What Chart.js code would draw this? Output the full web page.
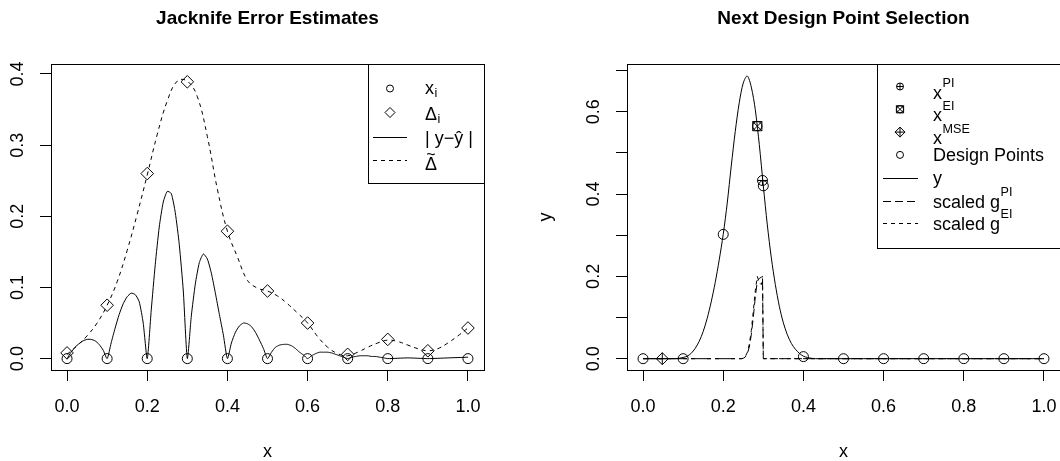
<!DOCTYPE html>
<html>
<head>
<meta charset="utf-8">
<script src="https://cdn.jsdelivr.net/npm/chart.js@4.4.0/dist/chart.umd.js"></script>
<style>
  html, body { margin: 0; padding: 0; background: #fff; overflow: hidden; }
  #wrap { position: relative; width: 1060px; height: 461px; overflow: hidden; }
  #leftBox { position: absolute; left: 0; top: 0; width: 530px; height: 461px; }
  #rightBox { position: absolute; left: 530px; top: 0; width: 540px; height: 461px; }
</style>
</head>
<body>
<div id="wrap">
  <div id="leftBox"><canvas id="leftChart"></canvas></div>
  <div id="rightBox"><canvas id="rightChart"></canvas></div>
</div>
<script>
// ---------- left panel: jacknife error estimates ----------
const designX = [0, 0.1, 0.2, 0.3, 0.4, 0.5, 0.6, 0.7, 0.8, 0.9, 1.0];
const designYLeft = [0, 0, 0, 0, 0, 0, 0, 0, 0, 0, 0];
const deltaI = [0.008, 0.075, 0.260, 0.389, 0.179, 0.095, 0.050, 0.006, 0.027, 0.011, 0.043];

const absErrX = [
  0, 0.01, 0.02, 0.03, 0.04, 0.05, 0.06, 0.07, 0.08, 0.09,
  0.10, 0.11, 0.12, 0.13, 0.14, 0.15, 0.16, 0.17, 0.18, 0.19,
  0.20, 0.21, 0.22, 0.23, 0.24, 0.25, 0.26, 0.27, 0.28, 0.29,
  0.30, 0.31, 0.32, 0.33, 0.34, 0.35, 0.36, 0.37, 0.38, 0.39,
  0.40, 0.41, 0.42, 0.43, 0.44, 0.45, 0.46, 0.47, 0.48, 0.49,
  0.50, 0.51, 0.52, 0.53, 0.54, 0.55, 0.56, 0.57, 0.58, 0.59,
  0.60, 0.61, 0.62, 0.63, 0.64, 0.65, 0.66, 0.67, 0.68, 0.69,
  0.70, 0.71, 0.72, 0.73, 0.74, 0.75, 0.76, 0.77, 0.78, 0.79,
  0.80, 0.85, 0.90, 0.95, 1.00
];
const absErrY = [
  0, 0.009, 0.016, 0.021, 0.025, 0.027, 0.027, 0.025, 0.020, 0.012,
  0, 0.022, 0.043, 0.062, 0.077, 0.087, 0.092, 0.090, 0.080, 0.050,
  0, 0.068, 0.132, 0.185, 0.220, 0.235, 0.232, 0.205, 0.160, 0.095,
  0, 0.060, 0.105, 0.135, 0.147, 0.140, 0.120, 0.092, 0.062, 0.033,
  0, 0.022, 0.037, 0.046, 0.050, 0.049, 0.045, 0.037, 0.026, 0.014,
  0, 0.009, 0.016, 0.019, 0.020, 0.020, 0.018, 0.014, 0.009, 0.005,
  0, 0.004, 0.007, 0.009, 0.009, 0.009, 0.008, 0.006, 0.004, 0.002,
  0, 0.002, 0.003, 0.004, 0.004, 0.004, 0.003, 0.003, 0.002, 0.001,
  0, 0.001, 0, 0.001, 0.002
];

const deltaTildeX = [
  0, 0.025, 0.05, 0.075, 0.1, 0.125, 0.15, 0.175, 0.2, 0.225,
  0.25, 0.275, 0.3, 0.325, 0.35, 0.375, 0.4, 0.425, 0.45, 0.475,
  0.5, 0.525, 0.55, 0.575, 0.6, 0.625, 0.65, 0.675, 0.7, 0.725,
  0.75, 0.775, 0.8, 0.825, 0.85, 0.875, 0.9, 0.925, 0.95, 0.975, 1
];
const deltaTildeY = [
  0.006, 0.018, 0.032, 0.050, 0.075, 0.108, 0.152, 0.203, 0.258, 0.315,
  0.362, 0.390, 0.390, 0.368, 0.312, 0.238, 0.179, 0.143, 0.110, 0.099,
  0.095, 0.088, 0.077, 0.064, 0.050, 0.031, 0.016, 0.007, 0.004, 0.009,
  0.016, 0.022, 0.026, 0.024, 0.019, 0.014, 0.011, 0.014, 0.022, 0.032, 0.043
];

// ---------- right panel: next design point selection ----------
const designYRight = [0, 0, 0.302, 0.420, 0.005, 0, 0, 0, 0, 0, 0];
const piX = [0.298], piY = [0.433];
const eiX = [0.285], eiY = [0.565];
const mseX = [0.048], mseY = [0];

const yCurveX = [
  0, 0.05, 0.08, 0.09,
  0.10, 0.11, 0.12, 0.13, 0.14, 0.15, 0.16, 0.17, 0.18, 0.19,
  0.20, 0.21, 0.22, 0.23, 0.24, 0.25, 0.26, 0.27, 0.28, 0.29,
  0.30, 0.31, 0.32, 0.33, 0.34, 0.35, 0.36, 0.37, 0.38, 0.39,
  0.40, 0.41, 0.42, 0.43,
  0.45, 0.5, 0.6, 0.7, 0.8, 0.9, 1.0
];
const yCurveY = [
  0, 0, 0, 0.001,
  0.003, 0.006, 0.013, 0.025, 0.042, 0.066, 0.098, 0.138, 0.185, 0.240,
  0.302, 0.378, 0.468, 0.552, 0.622, 0.670, 0.687, 0.660, 0.605, 0.520,
  0.420, 0.325, 0.245, 0.180, 0.127, 0.087, 0.058, 0.037, 0.023, 0.013,
  0.006, 0.003, 0.001, 0,
  0, 0, 0, 0, 0, 0, 0
];

const gX   = [0, 0.24, 0.245, 0.25, 0.255, 0.26, 0.265, 0.27, 0.275, 0.28, 0.285, 0.29, 0.295, 0.298, 0.300, 0.305, 1];
const gPI  = [0, 0, 0, 0.001, 0.004, 0.012, 0.028, 0.058, 0.100, 0.150, 0.188, 0.195, 0.198, 0.200, 0, 0, 0];
const gEI  = [0, 0, 0, 0.001, 0.005, 0.015, 0.035, 0.068, 0.115, 0.165, 0.200, 0.185, 0.180, 0.195, 0, 0, 0];

// ---------- ticks ----------
const xTicks = [0, 0.2, 0.4, 0.6, 0.8, 1];
const xTickLabels = ['0.0', '0.2', '0.4', '0.6', '0.8', '1.0'];
const yTicksLeft = [0, 0.1, 0.2, 0.3, 0.4];
const yTickLabelsLeft = ['0.0', '0.1', '0.2', '0.3', '0.4'];
const yTicksRight = [0, 0.1, 0.2, 0.3, 0.4, 0.5, 0.6, 0.7];
const yTickLabelsRight = ['0.0', '', '0.2', '', '0.4', '', '0.6', ''];

const FONT = '"Liberation Sans", Arial, sans-serif';
Chart.defaults.font.family = FONT;
Chart.defaults.font.size = 18;
Chart.defaults.color = '#000';

const pts = (xs, ys) => xs.map((x, i) => ({ x: x, y: ys[i] }));

function marks(data, style, r) {
  return {
    data: data, showLine: false, pointStyle: style, pointRadius: r, pointHoverRadius: r,
    pointBorderColor: '#000', pointBackgroundColor: 'rgba(0,0,0,0)', pointBorderWidth: 1
  };
}
function curve(data, dash, tension) {
  return {
    data: data, showLine: true, borderColor: '#000', borderWidth: 1, borderDash: dash,
    pointRadius: 0, pointHoverRadius: 0, tension: tension, fill: false
  };
}

// axis boxes get fixed sizes so the plot box lands where R put it
function axes(yMin, yMax, yTicks, yLabels, yWidth) {
  const tickGrid = { drawOnChartArea: false, drawTicks: true, tickLength: 11, color: '#000', tickColor: '#000', lineWidth: 1 };
  return {
    x: {
      type: 'linear', min: -0.04, max: 1.04,
      afterBuildTicks: s => { s.ticks = xTicks.map(v => ({ value: v })); },
      afterFit: s => { s.height = 91; s.paddingLeft = 0; s.paddingRight = 0; },
      grid: tickGrid, border: { display: false },
      ticks: { padding: 15, autoSkip: false, maxRotation: 0, callback: (v, i) => xTickLabels[i] }
    },
    y: {
      type: 'linear', min: yMin, max: yMax,
      afterBuildTicks: s => { s.ticks = yTicks.map(v => ({ value: v })); },
      afterFit: s => { s.width = yWidth; s.paddingTop = 0; s.paddingBottom = 0; },
      grid: tickGrid, border: { display: false },
      ticks: { padding: 9, autoSkip: false, minRotation: 90, maxRotation: 90, crossAlign: 'center',
               callback: (v, i) => yLabels[i] }
    }
  };
}

// ---------- legend symbols (plain canvas) ----------
function drawSym(ctx, kind, x, y, r) {
  ctx.beginPath();
  if (kind === 'circle' || kind === 'circlePlus') {
    ctx.arc(x, y, r, 0, Math.PI * 2);
  }
  if (kind === 'circlePlus') {
    ctx.moveTo(x - r, y); ctx.lineTo(x + r, y);
    ctx.moveTo(x, y - r); ctx.lineTo(x, y + r);
  }
  if (kind === 'diamond' || kind === 'diamondPlus') {
    ctx.moveTo(x - r, y); ctx.lineTo(x, y - r); ctx.lineTo(x + r, y); ctx.lineTo(x, y + r); ctx.closePath();
  }
  if (kind === 'diamondPlus') {
    ctx.moveTo(x - r, y); ctx.lineTo(x + r, y);
    ctx.moveTo(x, y - r); ctx.lineTo(x, y + r);
  }
  if (kind === 'squareX') {
    ctx.rect(x - r, y - r, 2 * r, 2 * r);
    ctx.moveTo(x - r, y - r); ctx.lineTo(x + r, y + r);
    ctx.moveTo(x + r, y - r); ctx.lineTo(x - r, y + r);
    ctx.moveTo(x + r, y); ctx.arc(x, y, r, 0, Math.PI * 2);
  }
  ctx.stroke();
}

function drawLegend(ctx, lg) {
  ctx.fillStyle = '#fff';
  ctx.fillRect(lg.x0, lg.y0, lg.x1 - lg.x0, lg.y1 - lg.y0);
  ctx.strokeRect(lg.x0 + 0.5, lg.y0 + 0.5, lg.x1 - lg.x0, lg.y1 - lg.y0);
  ctx.fillStyle = '#000';
  ctx.textAlign = 'left';
  ctx.textBaseline = 'alphabetic';
  lg.rows.forEach(row => {
    if (row.sym) drawSym(ctx, row.sym, lg.symX, row.y, row.r);
    if (row.dash) {
      ctx.setLineDash(row.dash);
      ctx.beginPath();
      ctx.moveTo(lg.lineX0, Math.round(row.y) + 0.5);
      ctx.lineTo(lg.lineX1, Math.round(row.y) + 0.5);
      ctx.stroke();
      ctx.setLineDash([]);
    }
    let x = lg.textX;
    row.text.forEach(seg => {
      ctx.font = (seg.size || 18) + 'px ' + FONT;
      ctx.fillText(seg.t, x + (seg.dx || 0), row.y + seg.dy);
      if (seg.tilde) {
        const w = ctx.measureText(seg.t).width;
        ctx.font = '16px ' + FONT;
        ctx.textAlign = 'center';
        ctx.fillText('~', x + w / 2, row.y + seg.dy - 10.5);
        ctx.textAlign = 'left';
        ctx.font = (seg.size || 18) + 'px ' + FONT;
      }
      x += ctx.measureText(seg.t).width + (seg.dx || 0);
    });
  });
}

const decor = {
  id: 'decor',
  afterDraw(chart, args, o) {
    const ctx = chart.ctx, ca = chart.chartArea;
    ctx.save();
    ctx.strokeStyle = '#000';
    ctx.lineWidth = 1;
    ctx.strokeRect(Math.round(ca.left) + 0.5, Math.round(ca.top) + 0.5,
                   Math.round(ca.right - ca.left), Math.round(ca.bottom - ca.top));
    const cx = (ca.left + ca.right) / 2;
    ctx.fillStyle = '#000';
    ctx.textAlign = 'center';
    ctx.textBaseline = 'alphabetic';
    ctx.font = 'bold 19px ' + FONT;
    ctx.fillText(o.title, cx, 24);
    ctx.font = '18px ' + FONT;
    ctx.fillText(o.xTitle, cx, 457);
    if (o.yTitle) {
      ctx.save();
      ctx.translate(ca.left - 76, (ca.top + ca.bottom) / 2);
      ctx.rotate(-Math.PI / 2);
      ctx.fillText(o.yTitle, 0, 0);
      ctx.restore();
    }
    drawLegend(ctx, o.legend);
    ctx.restore();
  }
};

function baseOptions(padding, yWidth, yMin, yMax, yTicks, yLabels, decorOpts) {
  return {
    responsive: true, maintainAspectRatio: false, animation: false, devicePixelRatio: 1,
    events: [],
    layout: { padding: padding },
    scales: axes(yMin, yMax, yTicks, yLabels, yWidth),
    plugins: { legend: { display: false }, tooltip: { enabled: false }, title: { display: false }, decor: decorOpts }
  };
}

// ---------- left chart ----------
new Chart(document.getElementById('leftChart'), {
  type: 'scatter',
  data: {
    datasets: [
      marks(pts(designX, designYLeft), 'circle', 5),
      marks(pts(designX, deltaI), 'rectRot', 6.3),
      curve(pts(absErrX, absErrY), [], 0.2),
      curve(pts(deltaTildeX, deltaTildeY), [4, 4], 0.4)
    ]
  },
  options: baseOptions({ left: 0, top: 64, right: 46, bottom: 0 }, 51, -0.016, 0.414, yTicksLeft, yTickLabelsLeft, {
    title: 'Jacknife Error Estimates', xTitle: 'x',
    legend: {
      x0: 368, y0: 64, x1: 484, y1: 183, symX: 390, lineX0: 373, lineX1: 407, textX: 425,
      rows: [
        { y: 88.5, sym: 'circle', r: 3.5, text: [{ t: 'x', dy: 5 }, { t: 'i', size: 12.6, dy: 8, dx: 0.5 }] },
        { y: 112.5, sym: 'diamond', r: 5, text: [{ t: '\u0394', dy: 7.5 }, { t: 'i', size: 12.6, dy: 10.5, dx: 0.5 }] },
        { y: 136.5, dash: [], text: [{ t: '| y\u2212\u0177 |', dy: 7.5 }] },
        { y: 160, dash: [4, 4], text: [{ t: '\u0394', dy: 10, tilde: true }] }
      ]
    }
  }),
  plugins: [decor]
});

// ---------- right chart ----------
new Chart(document.getElementById('rightChart'), {
  type: 'scatter',
  data: {
    datasets: [
      marks(pts(designX, designYRight), 'circle', 5),
      marks(pts(piX, piY), 'circle', 5),
      marks(pts(piX, piY), 'cross', 5),
      marks(pts(eiX, eiY), 'rect', 6.5),
      marks(pts(eiX, eiY), 'crossRot', 6.5),
      marks(pts(eiX, eiY), 'circle', 4.6),
      marks(pts(mseX, mseY), 'rectRot', 6),
      marks(pts(mseX, mseY), 'cross', 6),
      curve(pts(yCurveX, yCurveY), [], 0.3),
      curve(pts(gX, gPI), [8, 4], 0),
      curve(pts(gX, gEI), [4, 4], 0)
    ]
  },
  options: baseOptions({ left: 0, top: 64, right: 10, bottom: 0 }, 97, -0.0275, 0.716, yTicksRight, yTickLabelsRight, {
    title: 'Next Design Point Selection', xTitle: 'x', yTitle: 'y',
    legend: {
      x0: 347, y0: 64, x1: 560, y1: 248, symX: 370, lineX0: 353, lineX1: 388, textX: 403,
      rows: [
        { y: 86.5, sym: 'circlePlus', r: 3.5, text: [{ t: 'x', dy: 12 }, { t: 'PI', size: 12.6, dy: 0.5, dx: 0.5 }] },
        { y: 109.3, sym: 'squareX', r: 3.6, text: [{ t: 'x', dy: 12 }, { t: 'EI', size: 12.6, dy: 0.5, dx: 0.5 }] },
        { y: 132.1, sym: 'diamondPlus', r: 5, text: [{ t: 'x', dy: 12 }, { t: 'MSE', size: 12.6, dy: 0.5, dx: 0.5 }] },
        { y: 154.9, sym: 'circle', r: 3.5, text: [{ t: 'Design Points', dy: 6 }] },
        { y: 177.7, dash: [], text: [{ t: 'y', dy: 6 }] },
        { y: 200.5, dash: [8, 4], text: [{ t: 'scaled g', dy: 7 }, { t: 'PI', size: 12.6, dy: -5, dx: 0.5 }] },
        { y: 223.3, dash: [4, 4], text: [{ t: 'scaled g', dy: 7 }, { t: 'EI', size: 12.6, dy: -5, dx: 0.5 }] }
      ]
    }
  }),
  plugins: [decor]
});
</script>
</body>
</html>
